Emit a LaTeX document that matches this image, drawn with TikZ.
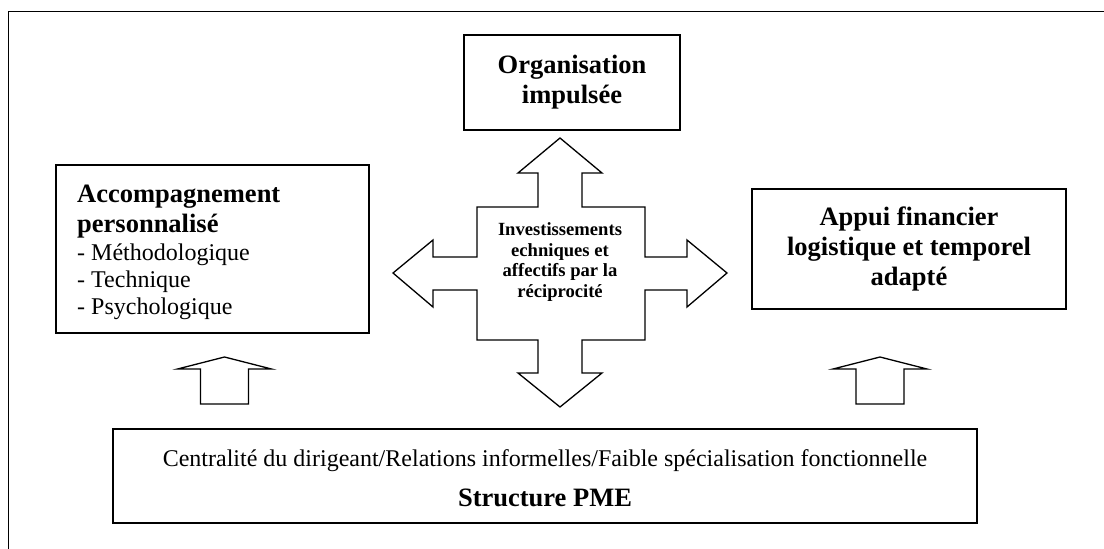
\documentclass[tikz,border=0pt]{standalone}
\usepackage{fontspec}
\setmainfont{Liberation Serif}
\begin{document}
\begin{tikzpicture}[x=1pt,y=-1pt,
  box/.style={draw, line width=1.3pt, inner sep=0pt},
  boldtxt/.style={font=\fontsize{26.5}{30}\selectfont\bfseries},
  regtxt/.style={font=\fontsize{24}{27}\selectfont},
  plain/.style={inner sep=0pt},
  blockarrow/.style={draw, line width=1.3pt, line join=miter},
  uparrow/.pic={\draw[blockarrow] (-24,0) -- (-24,-35) -- (-47,-35) -- (0,-47) -- (47,-35) -- (24,-35) -- (24,0) -- cycle;}
]
\useasboundingbox (0,0) rectangle (1104,549);
% outer frame
\coordinate (frA) at (1104,11);
\coordinate (frB) at (8,11);
\coordinate (frC) at (8,549);
\draw[line width=1pt] (frA) -- (frB) -- (frC);

% top box
\node[box, minimum width=216pt, minimum height=95pt, boldtxt, align=center] (org) at (572,82.5) {Organisation\\impulsée};

% left box
\node[box, minimum width=313pt, minimum height=168pt] (acc) at (212.5,249) {};
\node[plain, boldtxt, anchor=base west] (acc1) at (77,202) {Accompagnement};
\node[plain, boldtxt, anchor=base west] (acc2) at (77,232) {personnalisé};
\node[plain, regtxt, anchor=base west] (acc3) at (77,260) {- Méthodologique};
\node[plain, regtxt, anchor=base west] (acc4) at (77,287) {- Technique};
\node[plain, regtxt, anchor=base west] (acc5) at (77,314) {- Psychologique};

% right box
\node[box, minimum width=314pt, minimum height=120pt, boldtxt, align=center] (app) at (909,249) {Appui financier\\logistique et temporel\\adapté};

% bottom box
\node[box, minimum width=864pt, minimum height=94pt] (pme) at (545,476) {};
\node[plain, regtxt, anchor=base] (pme1) at (545,466) {Centralité du dirigeant/Relations informelles/Faible spécialisation fonctionnelle};
\node[plain, boldtxt, anchor=base] (pme2) at (545,506) {Structure PME};

% central cross arrow
\draw[blockarrow] (560,138) -- (602,173) -- (582,173) -- (582,207) -- (645,207) -- (645,257)
  -- (687,257) -- (687,240) -- (727,273) -- (687,307) -- (687,290) -- (645,290) -- (645,340)
  -- (582,340) -- (582,373) -- (602,373) -- (560,407) -- (518,373) -- (538,373) -- (538,340)
  -- (477,340) -- (477,290) -- (433,290) -- (433,307) -- (393,273) -- (433,240) -- (433,257)
  -- (477,257) -- (477,207) -- (538,207) -- (538,173) -- (518,173) -- cycle;
\node[font=\fontsize{18.6}{20.7}\selectfont\bfseries, align=center, inner sep=0pt] (inv) at (560,262)
  {Investissements\\echniques et\\affectifs par la\\réciprocité};

% up block arrows
\pic at (224.5,404) {uparrow};
\pic at (880,404) {uparrow};
\end{tikzpicture}
\end{document}
